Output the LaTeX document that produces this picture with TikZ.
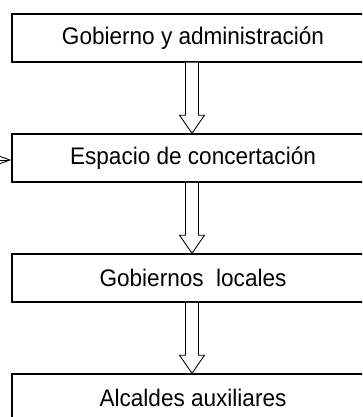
\documentclass[tikz,border=0pt]{standalone}
\usepackage{fontspec}
\setmainfont{Liberation Sans}[FakeStretch=0.94]
\usetikzlibrary{calc,arrows.meta}
\begin{document}
\begin{tikzpicture}[x=1pt,y=-1pt,
  box/.style={draw,line width=1.5pt,minimum width=362pt,minimum height=48pt,inner sep=0pt,
    font=\fontsize{24}{28}\selectfont},
  blockarr/.style={draw,line width=0.9pt,fill=white}]
\useasboundingbox (0,0) rectangle (362,417);
\clip (0,0) rectangle (362,417);
\node[box] (b1) at (193,38) {Gobierno y administración};
\node[box] (b2) at (193,158) {Espacio de concertación};
\node[box] (b3) at (193,278) {Gobiernos\ \ locales};
\node[box] (b4) at (193,398) {Alcaldes auxiliares};
\newcommand\blockarrow[2]{%
  \draw[blockarr] ($(#1.south)+(-7.5,0)$) -- ($(#2.north)+(-7.5,-18)$) -- ($(#2.north)+(-13.5,-18)$)
    -- ($(#2.north)+(-1,0)$) -- ($(#2.north)+(11.5,-18)$) -- ($(#2.north)+(5.5,-18)$) -- ($(#1.south)+(5.5,0)$);}
\blockarrow{b1}{b2}
\blockarrow{b2}{b3}
\blockarrow{b3}{b4}
\coordinate (src) at (-30,160);
\draw[line width=0.9pt,-{Straight Barb[length=11pt,width=8pt]}] (src) -- (b2.west |- src);
\end{tikzpicture}
\end{document}
